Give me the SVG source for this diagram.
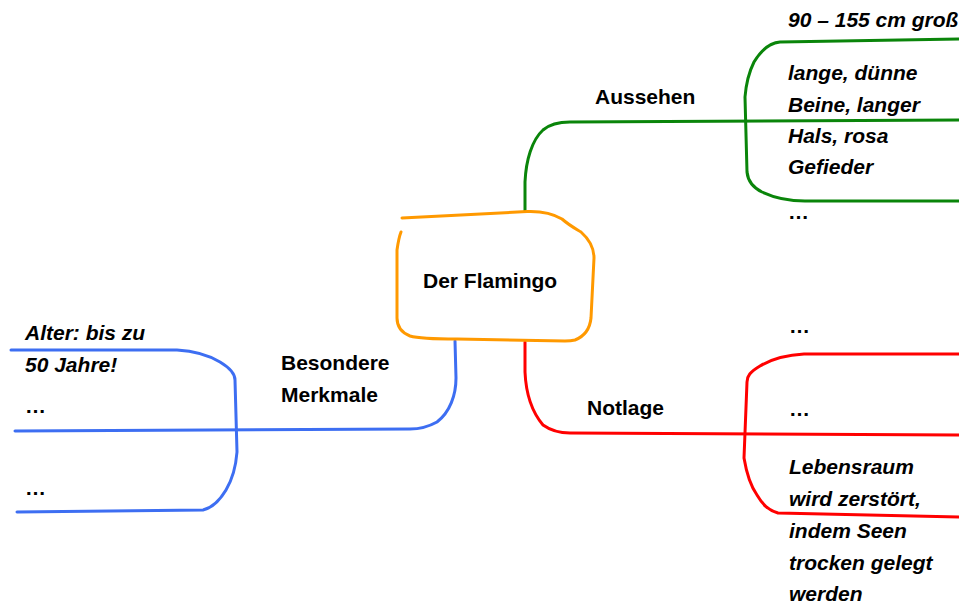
<svg xmlns="http://www.w3.org/2000/svg" width="959" height="606" viewBox="0 0 959 606">
<style>
  .ln{fill:none;stroke-width:3;stroke-linecap:round;stroke-linejoin:round}
  .o{stroke:#ff9900}.g{stroke:#0a850a}.r{stroke:#ff0000}.b{stroke:#3d6ef2}
  .t{font-family:"Liberation Sans",Arial,sans-serif;font-size:21px;font-weight:bold;fill:#000}
  .i{font-style:italic}
</style>
<rect width="959" height="606" fill="#fff"/>
<g id="connectors">
  <path class="ln g" d="M525,211 L525,182 C526,160 532,140 543,130 C550,124 558,122 570,122 L959,120"/>
  <path class="ln r" d="M525,342 L525,372 C526,395 532,412 543,425 C550,430 558,433 570,433 L959,435"/>
  <path class="ln b" d="M455,341 L456,378 C456,395 450,412 437,422 C428,427 420,429 410,429 L15,431"/>
</g>
<g id="center">
  <path class="ln o" d="M402,218 L527,211.5 C540,211 552,213 562,219 C570,226 578,230 581,232 C590,240 594,248 594,258 L591,318 C590,328 585,336 575,340 C571,341 568,341 565,341 L457,339 C440,339 420,339 410,336 C400,332 397,326 397,318 L397,250 C398,243 399,237 401,232"/>
  <text class="t" x="423" y="288">Der Flamingo</text>
</g>
<g id="aussehen">
  <text class="t" x="595" y="104">Aussehen</text>
  <path class="ln g" d="M959,39 L780,42 C768,43 760,52 754,62 C749,72 746,85 745,97 L747,172 C748,182 754,188 762,192 C775,198 790,201 805,201 L959,201"/>
  <text class="t i" x="788" y="27">90 – 155 cm groß</text>
  <text class="t i" x="788" y="80">lange, dünne</text>
  <text class="t i" x="788" y="111.5">Beine, langer</text>
  <text class="t i" x="788" y="143">Hals, rosa</text>
  <text class="t i" x="788" y="174">Gefieder</text>
  <text class="t" x="788" y="219">…</text>
</g>
<g id="notlage">
  <text class="t" x="587" y="415">Notlage</text>
  <path class="ln r" d="M959,354 L804,354 C785,355 770,360 760,366 C750,372 747,376 747,382 L744,458 C746,470 750,485 757,495 C763,505 768,510 778,513 L959,517"/>
  <text class="t" x="789" y="333">…</text>
  <text class="t" x="789" y="416">…</text>
  <text class="t i" x="789" y="474">Lebensraum</text>
  <text class="t i" x="789" y="506">wird zerstört,</text>
  <text class="t i" x="789" y="538">indem Seen</text>
  <text class="t i" x="789" y="570">trocken gelegt</text>
  <text class="t i" x="789" y="601">werden</text>
</g>
<g id="merkmale">
  <text class="t" x="281" y="370">Besondere</text>
  <text class="t" x="281" y="402">Merkmale</text>
  <path class="ln b" d="M11,350 L177,350 C195,351 210,356 220,362 C230,368 235,374 235,380 L237,452 C236,465 232,480 226,490 C220,500 212,508 203,510 L17,512"/>
  <text class="t i" x="25" y="340">Alter: bis zu</text>
  <text class="t i" x="25" y="372">50 Jahre!</text>
  <text class="t" x="25" y="413">…</text>
  <text class="t" x="25" y="495">…</text>
</g>
</svg>
